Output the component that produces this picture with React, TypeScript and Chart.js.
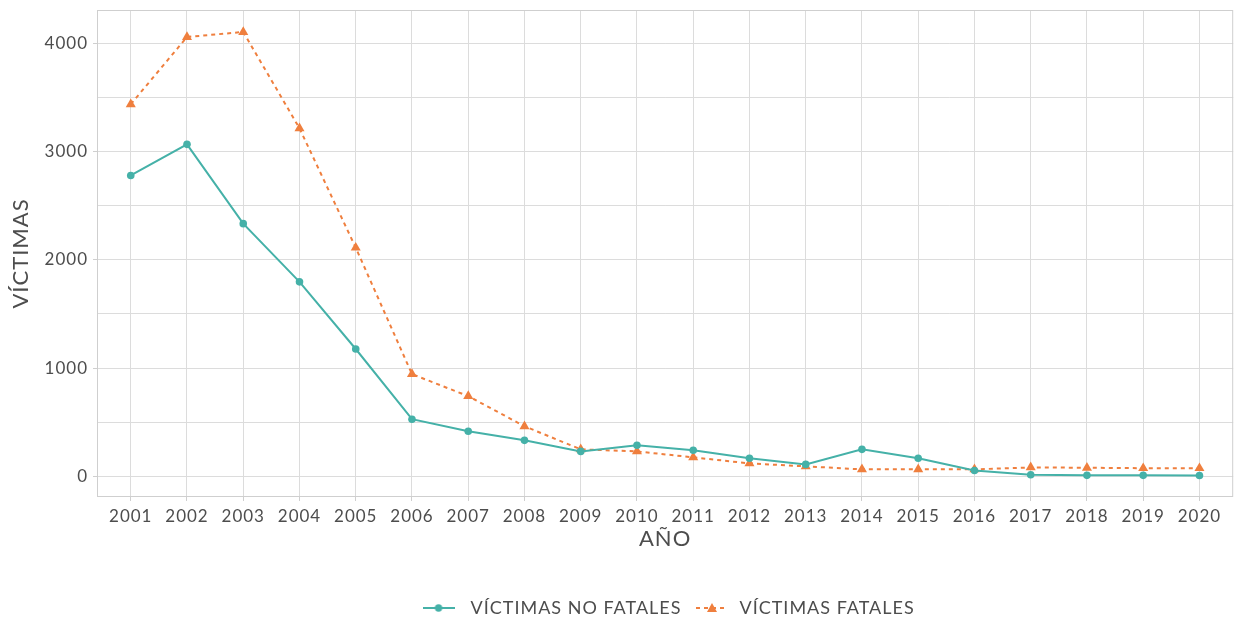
import React, { useEffect, useRef } from 'react';
import { Chart, registerables } from 'chart.js';

Chart.register(...registerables);

const years = ['2001', '2002', '2003', '2004', '2005', '2006', '2007', '2008', '2009', '2010',
  '2011', '2012', '2013', '2014', '2015', '2016', '2017', '2018', '2019', '2020'];
const noFatales = [2778, 3065, 2333, 1796, 1176, 528, 417, 333, 231, 287,
  241, 167, 111, 250, 167, 55, 15, 10, 10, 8];
const fatales = [3435, 4056, 4102, 3213, 2111, 944, 741, 463, 250, 231,
  176, 120, 93, 65, 65, 65, 83, 80, 76, 76];
const gridValues = [0, 500, 1000, 1500, 2000, 2500, 3000, 3500, 4000];
const labelValues = [0, 1000, 2000, 3000, 4000];

const TEAL = '#45B1A8';
const ORANGE = '#EF7F3E';
const TEXT = '#4D4D4D';
const GRID = '#DCDCDC';
const FONT = 'Lato';

function legendIcon(color: string, dash: number[], marker: 'circle' | 'triangle', leftPad: number) {
  const c = document.createElement('canvas');
  const w = 32 + leftPad;
  c.width = w;
  c.height = 14;
  const ctx = c.getContext('2d')!;
  ctx.strokeStyle = color;
  ctx.fillStyle = color;
  ctx.lineWidth = 2;
  ctx.setLineDash(dash);
  ctx.beginPath();
  ctx.moveTo(leftPad, 7);
  ctx.lineTo(w, 7);
  ctx.stroke();
  ctx.setLineDash([]);
  const cx = leftPad + 16;
  if (marker === 'circle') {
    ctx.beginPath();
    ctx.arc(cx, 7, 3.7, 0, Math.PI * 2);
    ctx.fill();
  } else {
    ctx.beginPath();
    ctx.moveTo(cx, 2);
    ctx.lineTo(cx + 5, 11);
    ctx.lineTo(cx - 5, 11);
    ctx.closePath();
    ctx.fill();
  }
  return c;
}

const setSpacing = (chart: any) => {
  try { chart.ctx.letterSpacing = '1px'; } catch (e) { /* ignore */ }
};

const panelBorder = {
  id: 'panelBorder',
  beforeUpdate(chart: any) { setSpacing(chart); },
  beforeLayout(chart: any) { setSpacing(chart); },
  beforeDraw(chart: any) { setSpacing(chart); },
  beforeDatasetsDraw(chart: any) {
    const { ctx, chartArea } = chart;
    ctx.save();
    ctx.strokeStyle = '#CFCFCF';
    ctx.lineWidth = 1;
    ctx.strokeRect(chartArea.left + 0.5, chartArea.top + 0.5,
      chartArea.right - chartArea.left - 1, chartArea.bottom - chartArea.top - 1);
    ctx.restore();
  },
};

export default function App() {
  const ref = useRef<HTMLCanvasElement>(null);

  useEffect(() => {
    if (!ref.current) return;
    const icons = [
      legendIcon(TEAL, [], 'circle', 0),
      legendIcon(ORANGE, [4, 4], 'triangle', 9),
    ];
    const yearNums = years.map(Number);
    const chart = new Chart(ref.current, {
      type: 'line',
      data: {
        datasets: [
          {
            label: 'VÍCTIMAS NO FATALES',
            data: yearNums.map((x, i) => ({ x, y: noFatales[i] })),
            borderColor: TEAL,
            backgroundColor: TEAL,
            borderWidth: 2,
            pointRadius: 3.8,
            pointStyle: 'circle',
            pointBorderWidth: 0,
            tension: 0,
          },
          {
            label: 'VÍCTIMAS FATALES',
            data: yearNums.map((x, i) => ({ x, y: fatales[i] })),
            borderColor: ORANGE,
            backgroundColor: ORANGE,
            borderWidth: 2,
            borderDash: [4, 4],
            pointRadius: 5.8,
            pointStyle: 'triangle',
            pointBorderWidth: 0,
            tension: 0,
          },
        ],
      },
      options: {
        animation: false,
        responsive: false,
        maintainAspectRatio: false,
        layout: { padding: { left: 0, right: 2, top: 10, bottom: -9 } },
        plugins: {
          tooltip: { enabled: false },
          legend: {
            position: 'bottom',
            fullSize: false,
            labels: {
              usePointStyle: true,
              pointStyleWidth: 46,
              padding: 3,
              color: TEXT,
              font: { family: FONT, size: 18 },
              generateLabels: (ch: any) =>
                ch.data.datasets.map((ds: any, i: number) => ({
                  text: ds.label,
                  fillStyle: ds.backgroundColor,
                  strokeStyle: ds.borderColor,
                  fontColor: TEXT,
                  pointStyle: icons[i],
                  lineWidth: 0,
                  hidden: false,
                  datasetIndex: i,
                })),
            },
          },
        },
        scales: {
          x: {
            type: 'linear',
            min: yearNums[0] - 0.6,
            max: yearNums[yearNums.length - 1] + 0.6,
            bounds: 'data',
            afterBuildTicks: (axis: any) => { axis.ticks = yearNums.map((v) => ({ value: v })); },
            afterFit: (axis: any) => { axis.height = 99; axis.paddingLeft = 0; axis.paddingRight = 0; },
            grid: { color: GRID, lineWidth: 1, tickLength: 4, tickColor: '#CFCFCF', drawOnChartArea: true },
            border: { display: false },
            ticks: {
              color: TEXT,
              font: { family: FONT, size: 17 },
              padding: 5,
              maxRotation: 0,
              autoSkip: false,
              callback: (v: any) => String(v),
            },
            title: {
              display: true,
              text: 'AÑO',
              color: TEXT,
              font: { family: FONT, size: 22 },
              padding: { top: 0, bottom: 44 },
            },
          },
          y: {
            type: 'linear',
            min: -190,
            max: 4305,
            bounds: 'data',
            afterBuildTicks: (axis: any) => { axis.ticks = gridValues.map((v) => ({ value: v })); },
            afterFit: (axis: any) => { axis.width = 97; axis.paddingTop = 0; axis.paddingBottom = 0; },
            grid: {
              color: GRID,
              lineWidth: 1,
              tickLength: 4,
              tickColor: (c: any) => (labelValues.includes(c.tick?.value) ? '#CFCFCF' : 'rgba(0,0,0,0)'),
            },
            border: { display: false },
            ticks: {
              color: TEXT,
              font: { family: FONT, size: 17 },
              padding: 5,
              callback: (v: any) => (labelValues.includes(Number(v)) ? String(v) : ''),
            },
            title: {
              display: true,
              text: 'VÍCTIMAS',
              color: TEXT,
              font: { family: FONT, size: 22 },
              padding: { top: 8, bottom: 0 },
            },
          },
        },
      },
      plugins: [panelBorder],
    });
    return () => chart.destroy();
  }, []);

  return (
    <div style={{ position: 'absolute', left: 0, top: 0, width: 1239, height: 618, background: '#fff', overflow: 'hidden' }}>
      <canvas ref={ref} width={1239} height={618} style={{ display: 'block' }} />
    </div>
  );
}
